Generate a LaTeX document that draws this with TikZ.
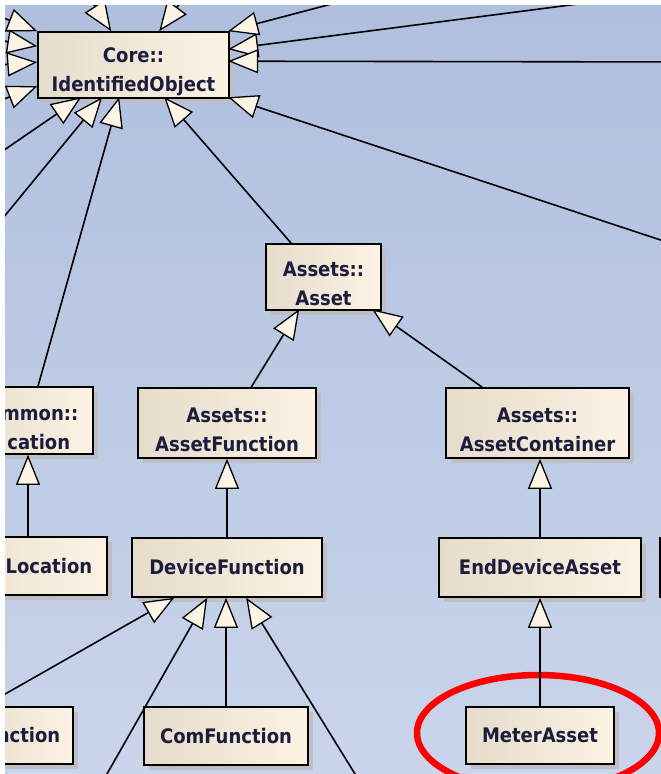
\documentclass[tikz,border=0pt]{standalone}
\usepackage{fontspec}
\usepackage{tikz}
\usetikzlibrary{arrows.meta, shadows, shapes.geometric}
\newfontfamily\umlfont{DejaVu Sans Condensed}
\newcommand{\uplift}{\rule{0pt}{29pt}}
\definecolor{bgtop}{RGB}{175,191,222}
\definecolor{bgbot}{RGB}{202,213,235}
\definecolor{boxleft}{RGB}{230,220,203}
\definecolor{boxright}{RGB}{252,243,228}
\definecolor{tipfill}{RGB}{252,244,228}
\definecolor{shadegray}{RGB}{190,190,196}
\definecolor{umltext}{RGB}{28,28,60}
\tikzset{
  classbox/.style={draw=black, line width=1.6pt, left color=boxleft, right color=boxright,
    drop shadow={shadow xshift=5pt, shadow yshift=-5pt, fill=shadegray, opacity=1},
    font=\umlfont\bfseries\fontsize{20}{29}\selectfont, text=umltext,
    align=center, inner sep=0pt},
  gen/.style={line width=1.6pt, -{Triangle[length=30pt, width=24pt, fill=tipfill, line width=1.3pt]}},
}

\begin{document}
\begin{tikzpicture}[x=1pt, y=-1pt]
\useasboundingbox (0,0) rectangle (661,774);
\fill[white] (0,0) rectangle (661,774);
\shade[top color=bgtop, bottom color=bgbot] (5,5) rectangle (661,774);
\clip (5,5) rectangle (661,774); % frame of the screenshot

% classes
\node[classbox, minimum width=191pt, minimum height=66pt] (idobj) at (133.5,65) {\uplift Core::\\IdentifiedObject};
\node[classbox, minimum width=115pt, minimum height=66pt] (asset) at (323.5,277) {\uplift Assets::\\Asset};
\node[classbox, minimum height=67pt, inner xsep=15pt, anchor=east] (comloc) at (94,420.5) {\uplift\hphantom{Co}mmon::\\\hphantom{Lo}cation};
\node[classbox, minimum width=178pt, minimum height=70pt] (assetfn) at (227,423) {\uplift Assets::\\AssetFunction};
\node[classbox, minimum width=183pt, minimum height=70pt] (assetcont) at (537.5,423) {\uplift Assets::\\AssetContainer};
\node[classbox, minimum height=58pt, inner xsep=15pt, anchor=east] (loc) at (108,566) {\hphantom{Service}Location};
\node[classbox, minimum width=190pt, minimum height=59pt] (devfn) at (227,567.5) {DeviceFunction};
\node[classbox, minimum width=202pt, minimum height=59pt] (enddev) at (540,567.5) {EndDeviceAsset};
\node[classbox, minimum width=100pt, minimum height=59pt, anchor=west] (rightcut) at (659,567.5) {};
\node[classbox, minimum height=57pt, inner xsep=13pt, anchor=east] (fnleft) at (74,735.5) {\hphantom{Fu}nction};
\node[classbox, minimum width=164pt, minimum height=58pt] (comfn) at (226,736) {ComFunction};
\node[classbox, minimum width=148pt, minimum height=57pt] (meter) at (540,735.5) {MeterAsset};

% red mark round MeterAsset
\node[ellipse, draw=red, line width=6.5pt, minimum width=242pt, minimum height=116pt] (mark) at (538,733) {};

% generalizations from outside the frame into IdentifiedObject
\foreach \far/\dx/\dy [count=\i] in {{-37,2}/0/0, {-41,34}/0/15, {-42,68}/0/31, {-37,115}/0/55,
    {79,-18}/74/0, {195,-17}/122/0, {400,-14}/191/0, {640,-4}/191/18, {700,62}/191/30,
    {700,253}/191/66, {-25,170}/44/66, {-20,246}/65/66} {
  \coordinate (in\i) at (\far);
  \draw[gen] (in\i) -- ([shift={(\dx,\dy)}]idobj.north west);
}

\draw[gen] ([shift={(26,0)}]asset.north west) -- ([shift={(127,66)}]idobj.north west);
\draw[gen] ([shift={(-56,0)}]comloc.north east) -- ([shift={(82,66)}]idobj.north west);
\draw[gen] ([shift={(114,0)}]assetfn.north west) -- ([shift={(34,66)}]asset.north west);
\draw[gen] ([shift={(37,0)}]assetcont.north west) -- ([shift={(107,66)}]asset.north west);
\draw[gen] ([shift={(-80,0)}]loc.north east) -- ([shift={(-66,0)}]comloc.south east);
\draw[gen] (devfn.north) -- (assetfn.south);
\draw[gen] (enddev.north) -- (enddev.north |- assetcont.south);
\draw[gen] (meter.north) -- (meter.north |- enddev.south);
\draw[gen] (comfn.north) -- (comfn.north |- devfn.south);

% subclasses of DeviceFunction leaving the frame
\foreach \far/\dx [count=\i] in {{-30,714}/43, {95,795}/76, {368,795}/115} {
  \coordinate (out\i) at (\far);
  \draw[gen] (out\i) -- ([shift={(\dx,0)}]devfn.south west);
}
\end{tikzpicture}
\end{document}
